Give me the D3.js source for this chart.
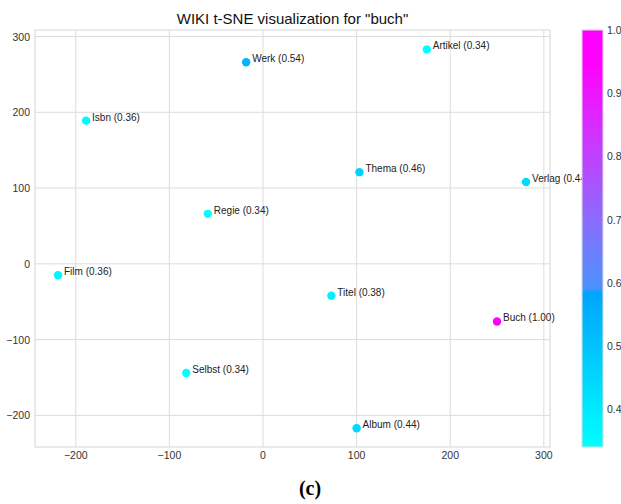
<!DOCTYPE html>
<html>
<head>
<meta charset="utf-8">
<script src="https://cdn.jsdelivr.net/npm/d3@7"></script>
<style>
  body { margin: 0; background: #fff; }
  text { font-family: "Liberation Sans", Arial, sans-serif; }
</style>
</head>
<body>
<div id="chart"></div>
<script>
// words, t-SNE coordinates and similarity
const words = ["Werk", "Isbn", "Artikel", "Thema", "Verlag", "Regie", "Film", "Titel", "Buch", "Selbst", "Album"];
const xs = [-18, -189, 175, 103, 281, -59, -219, 73, 250, -82, 100];
const ys = [266, 189, 283, 121, 108, 66, -15, -42, -76, -144, -217];
const sims = [0.54, 0.36, 0.34, 0.46, 0.44, 0.34, 0.36, 0.38, 1.00, 0.34, 0.44];

const xTicks = [-200, -100, 0, 100, 200, 300];
const yTicks = [-200, -100, 0, 100, 200, 300];
const cbTicks = [0.4, 0.5, 0.6, 0.7, 0.8, 0.9, 1.0];

const W = 621, H = 504;
const pLeft = 35, pRight = 550, pTop = 30, pBottom = 447;

const svg = d3.select("#chart").append("svg")
    .attr("width", W)
    .attr("height", H);

// scales
const x = d3.scaleLinear().domain([-243.6, 306.6]).range([pLeft, pRight]);
const y = d3.scaleLinear().domain([308.6, -241.7]).range([pTop, pBottom]);

// colour map: cyan -> deep sky blue, then a step to violet -> magenta
const cmin = 0.34, cmax = 1.0;
const color = d3.scaleLinear()
    .domain([0.34, 0.585, 0.59, 0.7, 0.85, 0.95, 1.0])
    .range(["#00ffff", "#00a4ff", "#4a93ff", "#8a6cff", "#d92cff", "#ff00ff", "#ff00ff"])
    .clamp(true);

const defs = svg.append("defs");

// grid
svg.append("g").selectAll("line").data(xTicks).join("line")
    .attr("x1", d => x(d)).attr("x2", d => x(d))
    .attr("y1", pTop).attr("y2", pBottom)
    .attr("stroke", "#dcdcdc").attr("stroke-width", 1);
svg.append("g").selectAll("line").data(yTicks).join("line")
    .attr("x1", pLeft).attr("x2", pRight)
    .attr("y1", d => y(d)).attr("y2", d => y(d))
    .attr("stroke", "#dcdcdc").attr("stroke-width", 1);

// frame
svg.append("rect")
    .attr("x", pLeft).attr("y", pTop)
    .attr("width", pRight - pLeft).attr("height", pBottom - pTop)
    .attr("fill", "none").attr("stroke", "#dcdcdc").attr("stroke-width", 1.2);

// tick labels
svg.append("g").selectAll("text").data(xTicks).join("text")
    .attr("x", d => x(d)).attr("y", pBottom + 12)
    .attr("text-anchor", "middle")
    .attr("font-size", 10.5).attr("fill", "#333")
    .text(d => d < 0 ? "\u2212" + Math.abs(d) : d);
svg.append("g").selectAll("text").data(yTicks).join("text")
    .attr("x", pLeft - 5).attr("y", d => y(d) + 4)
    .attr("text-anchor", "end")
    .attr("font-size", 10.5).attr("fill", "#333")
    .text(d => d < 0 ? "\u2212" + Math.abs(d) : d);

// points
const idx = d3.range(words.length);
svg.append("g").selectAll("circle").data(idx).join("circle")
    .attr("cx", i => x(xs[i]))
    .attr("cy", i => y(ys[i]))
    .attr("r", 4.2)
    .attr("fill", i => color(sims[i]));

svg.append("g").selectAll("text").data(idx).join("text")
    .attr("x", i => x(xs[i]) + 6)
    .attr("y", i => y(ys[i]))
    .attr("font-size", 10).attr("fill", "#222")
    .text(i => words[i] + " (" + sims[i].toFixed(2) + ")");

// title
svg.append("text")
    .attr("x", (pLeft + pRight) / 2).attr("y", 24)
    .attr("text-anchor", "middle")
    .attr("font-size", 15).attr("fill", "#111")
    .text('WIKI t-SNE visualization for "buch"');

// colorbar (drawn over the labels, as in the original)
const cbX = 582, cbW = 21;
const cbY = d3.scaleLinear().domain([cmin, cmax]).range([pBottom, pTop]);
const grad = defs.append("linearGradient")
    .attr("id", "cbgrad")
    .attr("x1", "0").attr("y1", "1").attr("x2", "0").attr("y2", "0");
d3.range(0, 1.0001, 0.01).forEach(t => {
    const v = cmin + t * (cmax - cmin);
    grad.append("stop").attr("offset", t).attr("stop-color", color(v));
});
svg.append("rect")
    .attr("x", cbX).attr("y", pTop)
    .attr("width", cbW).attr("height", pBottom - pTop)
    .attr("fill", "url(#cbgrad)")
    .attr("stroke", "#dcdcdc").attr("stroke-width", 1);
svg.append("g").selectAll("text").data(cbTicks).join("text")
    .attr("x", cbX + cbW + 4).attr("y", d => cbY(d) + 4)
    .attr("font-size", 10.5).attr("fill", "#333")
    .text(d => d.toFixed(1));

// panel label
svg.append("text")
    .attr("x", 310).attr("y", 495)
    .attr("text-anchor", "middle")
    .style("font-family", "'Liberation Serif', 'DejaVu Serif', serif")
    .attr("font-size", 20).attr("font-weight", "bold").attr("fill", "#000")
    .text("(c)");
</script>
</body>
</html>
